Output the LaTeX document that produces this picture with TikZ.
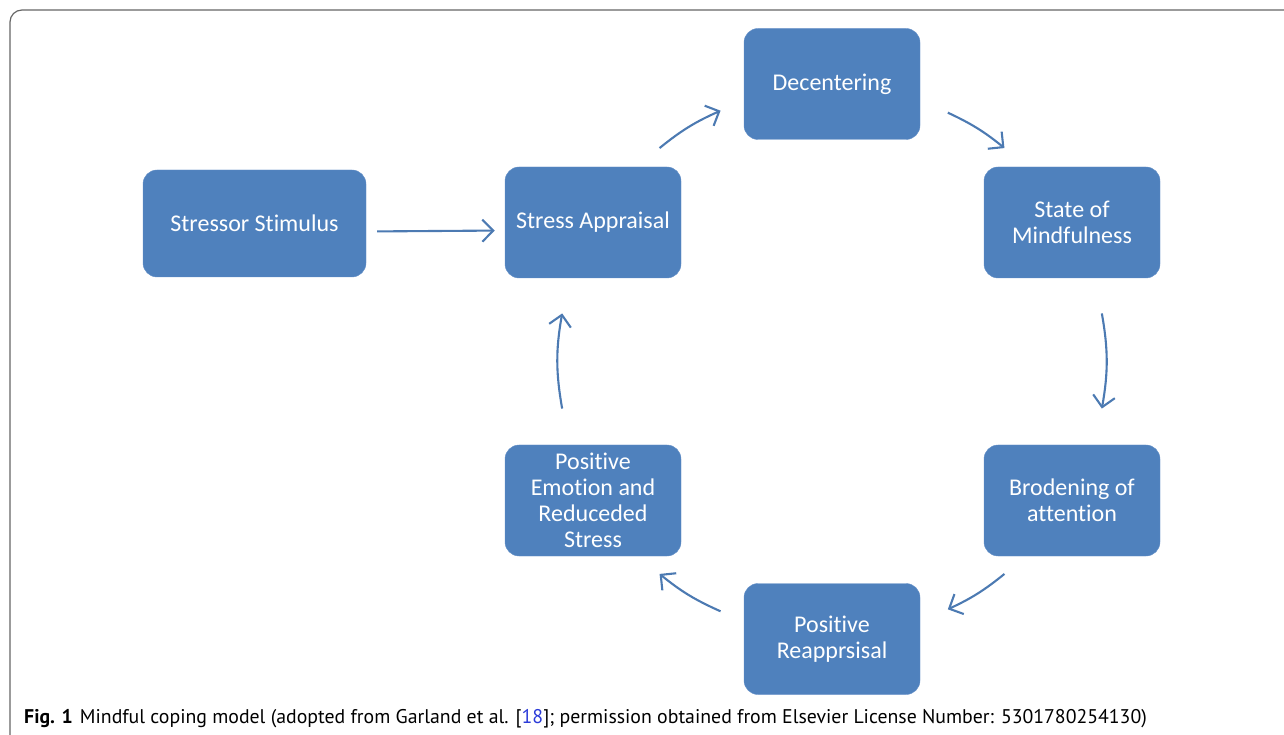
\documentclass[tikz,border=0pt]{standalone}
\usepackage{fontspec}
\setmainfont{Carlito}[Ligatures=CommonOff]
\newfontfamily\capfont{PT Sans}
\usetikzlibrary{arrows.meta, positioning, calc}
\definecolor{boxblue}{HTML}{4F81BD}
\definecolor{boxedge}{HTML}{6590C8}
\definecolor{arrowblue}{HTML}{4C7AB2}
\definecolor{linkblue}{HTML}{2B3BD8}

\begin{document}
\begin{tikzpicture}[x=1pt, y=1pt,
	box/.style={draw=boxedge, fill=boxblue, rounded corners=14pt, minimum width=176pt, minimum height=111pt, inner sep=0pt, text=white, align=center, font=\fontsize{24}{26}\selectfont},
	flow/.style={draw=arrowblue, line width=2.1pt, -{Straight Barb[length=11pt, width=22pt]}}]
			\clip (0,0) rectangle (1284,734);
			% frame of the figure
			\draw[black!60, line width=1.2pt, rounded corners=12pt] (10,-40) rectangle (1330,724);
			% boxes
			\node[box, minimum width=223pt, minimum height=107pt] (stim) at (254.5,510.5) {Stressor Stimulus};
			\node[box] (appr) at (593,511.5) {Stress Appraisal};
			\node[box] (dec) at (832,650) {Decentering};
			\node[box] (mind) at (1072,511.5) {State of\\Mindfulness};
			\node[box] (brod) at (1072,233.5) {Brodening of\\attention};
			\node[box] (reap) at (832,95) {Positive\\Reapprsisal};
			\node[box] (emo) at (593,233.5) {Positive\\Emotion and\\Reduceded\\Stress};
			% arrow ends on the cycle
			\coordinate (ctr) at (832,373);
			\coordinate (a1) at ($(ctr)+(129:274)$);
			\coordinate (a2) at ($(ctr)+(114:274)$);
			\coordinate (b1) at ($(ctr)+(65:274)$);
			\coordinate (b2) at ($(ctr)+(51:274)$);
			\coordinate (c1) at ($(ctr)+(10:274)$);
			\coordinate (c2) at ($(ctr)+(-10:274)$);
			\coordinate (d1) at ($(ctr)+(-51:274)$);
			\coordinate (d2) at ($(ctr)+(-65:274)$);
			\coordinate (e1) at ($(ctr)+(-114:274)$);
			\coordinate (e2) at ($(ctr)+(-129:274)$);
			\coordinate (f1) at ($(ctr)+(190:274)$);
			\coordinate (f2) at ($(ctr)+(170:274)$);
			% arrows
			\draw[flow, shorten <=11pt, shorten >=10pt] ([yshift=-8pt]stim.east) -- ([yshift=-8pt]appr.west);
			\draw[flow] (a1) to[bend left=7.5] (a2);
			\draw[flow] (b1) to[bend left=7] (b2);
			\draw[flow] (c1) to[bend left=10] (c2);
			\draw[flow] (d1) to[bend left=7] (d2);
			\draw[flow] (e1) to[bend left=7.5] (e2);
			\draw[flow] (f1) to[bend left=10] (f2);
			% caption
			\node[anchor=base west, inner sep=0pt, font=\capfont\fontsize{19.8}{22}\selectfont] (cap) at (24,11)
				{\textbf{Fig. 1}\hspace{7pt}Mindful coping model (adopted from Garland et al. [\textcolor{linkblue}{18}]; permission obtained from Elsevier License Number: 5301780254130)};
		\end{tikzpicture}
\end{document}
